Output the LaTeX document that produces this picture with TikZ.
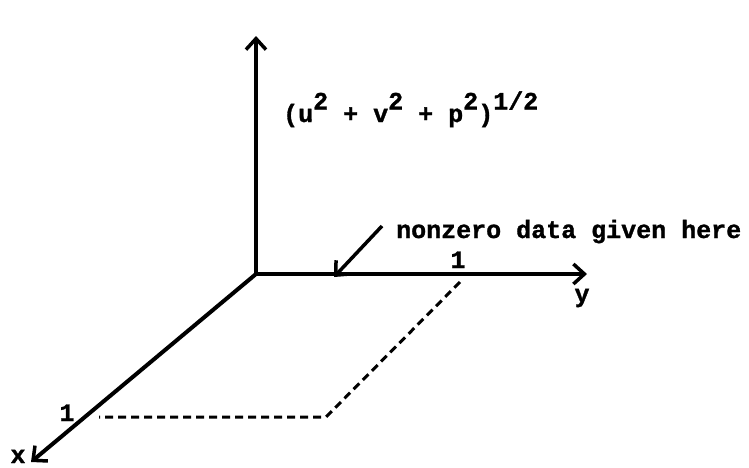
\documentclass[tikz,border=0pt]{standalone}
\usepackage{fontspec}
\newfontfamily\twfont{Liberation Mono}[BoldFeatures={FakeBold=1.2}]
\usetikzlibrary{arrows.meta}
\begin{document}
\begin{tikzpicture}[x=1pt,y=-1pt,
  axis/.style={line width=4pt,-{Straight Barb[length=11pt,width=20pt,line width=3.5pt]}},
  dashline/.style={line width=3pt,dash pattern=on 8pt off 5pt},
  lbl/.style={font=\fontsize{25}{28}\selectfont\twfont\bfseries,inner sep=0pt}]
\useasboundingbox (0,0) rectangle (749,467);
\newcommand{\up}[1]{\raisebox{0.5em}{#1}}
\coordinate (O) at (256,274);
\coordinate (Z) at (256,36);
\coordinate (Y) at (587,274);
\coordinate (X) at (31,462);
\coordinate (P1) at (460,282);
\coordinate (P2) at (326,417);
\coordinate (P3) at (99,417);
\draw[axis] (O) -- (Z);
\draw[axis] (O) -- (Y);
\draw[axis] (O) -- (X);
\draw[dashline] (P1) -- (P2) -- (P3);
\node[lbl,anchor=base west] (mag) at (283,122) {(u\up{2} + v\up{2} + p\up{2})\up{1/2}};
\node[lbl,anchor=base west] (note) at (396,238) {nonzero data given here};
\coordinate (tail) at (382,226);
\coordinate (tip) at (334,277);
\draw[axis,line width=3.5pt] (tail) -- (tip);
\node[lbl,anchor=base] (oney) at (458,268) {1};
\node[lbl,anchor=base] (onex) at (67,421) {1};
\node[lbl,anchor=base] (ylab) at (582,302) {y};
\node[lbl,anchor=base] (xlab) at (18,463) {x};
\end{tikzpicture}
\end{document}
